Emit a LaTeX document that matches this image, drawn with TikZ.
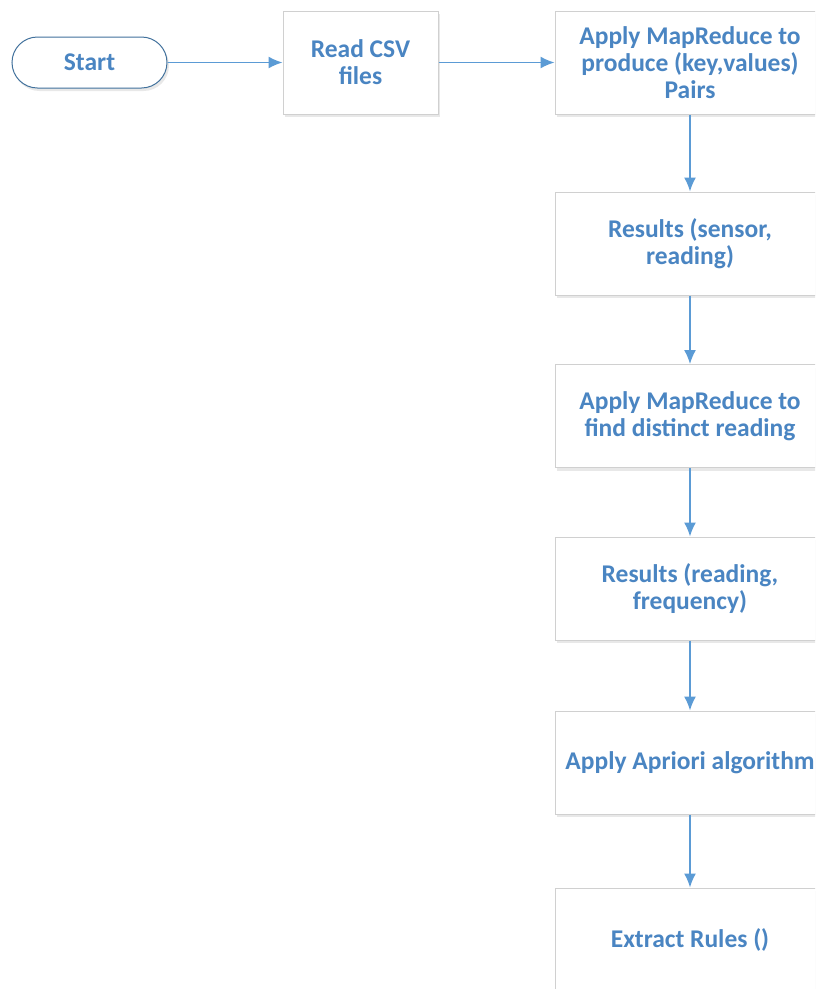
\documentclass[tikz,border=0pt]{standalone}
\usepackage{fontspec}
\setmainfont{Carlito}
\usetikzlibrary{shadows,arrows.meta}
\definecolor{txtblue}{HTML}{4A85C2}
\definecolor{arrblue}{HTML}{5B9BD5}
\definecolor{startline}{HTML}{41719C}
\definecolor{boxline}{HTML}{D0D0D0}
\tikzset{every picture/.style={line width=0.75pt}}
\tikzset{
  procbox/.style={draw=boxline, fill=white, line width=1pt, align=center,
    text=txtblue, font=\bfseries\fontsize{25.5}{27}\selectfont,
    drop shadow={opacity=0.18, shadow xshift=2pt, shadow yshift=-3pt}},
  flowarr/.style={draw=arrblue, line width=1.5pt, -{Latex[length=14pt,width=12pt]}}
}

\begin{document}
\begin{tikzpicture}[x=1pt,y=1pt,yscale=-1,xscale=1]
		\clip (0,0) rectangle (815,989);
		\path[fill=white] (0,0) rectangle (815,989);
		
		%Shape: Terminator [id:start]
		\node [procbox, draw=startline, rounded corners=25.5pt, minimum width=155pt, minimum height=51pt] (start) at (89.5,62.5) {Start};
		
		%Shape: Rectangle [id:readcsv]
		\node [procbox, minimum width=155pt, minimum height=103pt] (readcsv) at (360.5,62.5) {Read CSV\\files};
		
		%Shape: Rectangle [id:mapkv]
		\node [procbox, minimum width=270pt, minimum height=103pt] (mapkv) at (690,62.5) {Apply MapReduce to\\produce (key,values)\\Pairs};
		
		%Shape: Rectangle [id:ressensor]
		\node [procbox, minimum width=270pt, minimum height=103pt] (ressensor) at (690,243.5) {Results (sensor,\\reading)};
		
		%Shape: Rectangle [id:mapdistinct]
		\node [procbox, minimum width=270pt, minimum height=103pt] (mapdistinct) at (690,416) {Apply MapReduce to\\find distinct reading};
		
		%Shape: Rectangle [id:resfreq]
		\node [procbox, minimum width=270pt, minimum height=103pt] (resfreq) at (690,588.5) {Results (reading,\\frequency)};
		
		%Shape: Rectangle [id:apriori]
		\node [procbox, minimum width=270pt, minimum height=103pt] (apriori) at (690,762.5) {Apply Apriori algorithm};
		
		%Shape: Rectangle [id:rules]
		\node [procbox, minimum width=270pt, minimum height=103pt] (rules) at (690,939.5) {Extract Rules ()};
		
		%Connectors
		\draw [flowarr] (start) -- (readcsv);
		\draw [flowarr] (readcsv) -- (mapkv);
		\draw [flowarr] (mapkv) -- (ressensor);
		\draw [flowarr] (ressensor) -- (mapdistinct);
		\draw [flowarr] (mapdistinct) -- (resfreq);
		\draw [flowarr] (resfreq) -- (apriori);
		\draw [flowarr] (apriori) -- (rules);
		
\end{tikzpicture}
\end{document}
